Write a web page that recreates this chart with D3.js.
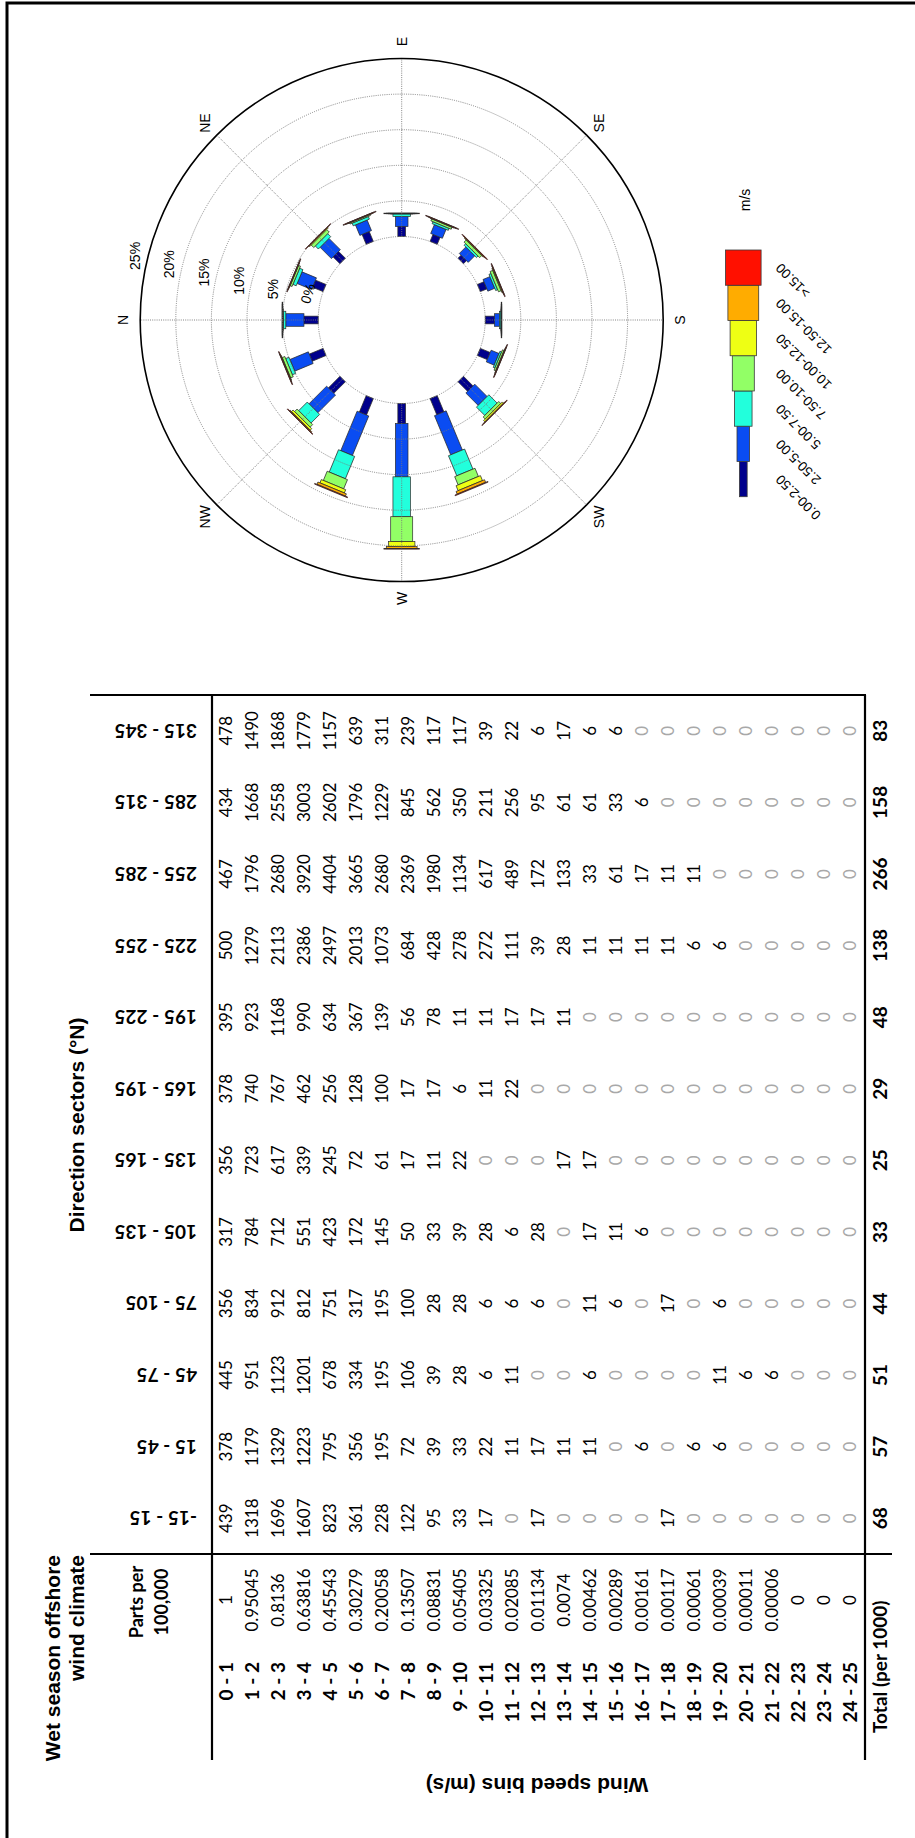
<!DOCTYPE html>
<html>
<head>
<meta charset="utf-8">
<script src="https://cdn.jsdelivr.net/npm/d3@7"></script>
<style>
  body { margin: 0; background: #fff; }
  svg { display: block; }
</style>
</head>
<body>
<svg id="fig" width="915" height="1838"></svg>
<script>
// ---------------- Table: parts per 100,000 by wind speed bin and direction sector
const speedBins = ["0 - 1","1 - 2","2 - 3","3 - 4","4 - 5","5 - 6","6 - 7","7 - 8","8 - 9","9 - 10",
  "10 - 11","11 - 12","12 - 13","13 - 14","14 - 15","15 - 16","16 - 17","17 - 18","18 - 19","19 - 20",
  "20 - 21","21 - 22","22 - 23","23 - 24","24 - 25"];
const partsPer100000 = ["1","0.95045","0.8136","0.63816","0.45543","0.30279","0.20058","0.13507","0.08831",
  "0.05405","0.03325","0.02085","0.01134","0.0074","0.00462","0.00289","0.00161","0.00117","0.00061",
  "0.00039","0.00011","0.00006","0","0","0"];
const sectors = ["-15 - 15","15 - 45","45 - 75","75 - 105","105 - 135","135 - 165",
  "165 - 195","195 - 225","225 - 255","255 - 285","285 - 315","315 - 345"];

const sec345_15  = [439,1318,1696,1607,823,361,228,122,95,33,17,0,17,0,0,0,0,17,0,0,0,0,0,0,0];
const sec15_45   = [378,1179,1329,1223,795,356,195,72,39,33,22,11,17,11,11,0,6,0,6,6,0,0,0,0,0];
const sec45_75   = [445,951,1123,1201,678,334,195,106,39,28,6,11,0,0,6,0,0,0,0,11,6,6,0,0,0];
const sec75_105  = [356,834,912,812,751,317,195,100,28,28,6,6,6,0,11,6,0,17,0,6,0,0,0,0,0];
const sec105_135 = [317,784,712,551,423,172,145,50,33,39,28,6,28,0,17,11,6,0,0,0,0,0,0,0,0];
const sec135_165 = [356,723,617,339,245,72,61,17,11,22,0,0,0,17,17,0,0,0,0,0,0,0,0,0,0];
const sec165_195 = [378,740,767,462,256,128,100,17,17,6,11,22,0,0,0,0,0,0,0,0,0,0,0,0,0];
const sec195_225 = [395,923,1168,990,634,367,139,56,78,11,11,17,17,11,0,0,0,0,0,0,0,0,0,0,0];
const sec225_255 = [500,1279,2113,2386,2497,2013,1073,684,428,278,272,111,39,28,11,11,11,11,6,6,0,0,0,0,0];
const sec255_285 = [467,1796,2680,3920,4404,3665,2680,2369,1980,1134,617,489,172,133,33,61,17,11,11,0,0,0,0,0,0];
const sec285_315 = [434,1668,2558,3003,2602,1796,1229,845,562,350,211,256,95,61,61,33,6,0,0,0,0,0,0,0,0];
const sec315_345 = [478,1490,1868,1779,1157,639,311,239,117,117,39,22,6,17,6,6,0,0,0,0,0,0,0,0,0];
const sectorColumns = [sec345_15,sec15_45,sec45_75,sec75_105,sec105_135,sec135_165,
  sec165_195,sec195_225,sec225_255,sec255_285,sec285_315,sec315_345];
const totalsPer1000 = [68,57,51,44,33,25,29,48,138,266,158,83];

// ---------------- Wind rose: percent of time, 16 directions x 7 speed classes
const roseDirections = ["N","NNE","NE","ENE","E","ESE","SE","SSE","S","SSW","SW","WSW","W","WNW","NW","NNW"];
const speedClasses = ["0.00-2.50","2.50-5.00","5.00-7.50","7.50-10.00","10.00-12.50","12.50-15.00",">15.00"];
const rose0_25   = [2.0,1.6,1.35,1.5,1.4,1.06,0.6,1.0,1.3,1.5,1.9,2.45,2.8,2.5,2.3,2.1];
const rose25_5   = [2.55,2.2,2.25,1.6,1.4,1.35,1.3,1.05,0.7,1.2,2.45,5.95,7.5,6.0,3.5,2.8];
const rose5_75   = [0.35,0.5,0.6,0.4,0.4,0.3,0.3,0.3,0.25,0.25,1.65,3.05,5.6,3.4,1.7,0.5];
const rose75_10  = [0.1,0.3,0.5,0.2,0.05,0.3,0.4,0.4,0.05,0.25,0.4,1.25,3.5,1.4,0.5,0.4];
const rose10_125 = [0.04,0.08,0.15,0.05,0.02,0.1,0.15,0.15,0.02,0.1,0.25,0.75,0.7,0.5,0.3,0.1];
const rose125_15 = [0.02,0.03,0.05,0.02,0.01,0.04,0.05,0.05,0.01,0.03,0.08,0.4,0.3,0.35,0.15,0.05];
const rose15up   = [0.01,0.01,0.02,0.01,0,0.01,0.02,0.02,0,0.01,0.02,0.1,0.05,0.1,0.05,0.02];
const roseClasses = [rose0_25,rose25_5,rose5_75,rose75_10,rose10_125,rose125_15,rose15up];
const ringTicks = [0,5,10,15,20,25];
const compassLabels = ["N","NE","E","SE","S","SW","W","NW"];

// ---------------- Styling
const classColors = ["#00008c","#0a4cf2","#22ffdc","#92ff66","#eeff14","#ffac00","#ff1000"];
const classWidths = [7.7,12.6,17.5,22,26.4,30.8,35.6];
const headFont = "'Liberation Sans', Arial, sans-serif";
const cellFont = "Lato, 'Liberation Sans', sans-serif";

const svg = d3.select("#fig");
svg.append("rect").attr("width",915).attr("height",1838).attr("fill","#fff");

// Landscape sheet (1838 x 915) turned a quarter to the left on the portrait page
const sheet = svg.append("g").attr("transform","translate(0,1838) rotate(-90)");

sheet.append("path").attr("d","M0,7 H1835 V915")
  .attr("fill","none").attr("stroke","#000").attr("stroke-width",3);

// ================= TABLE =================
const x = d3.scaleBand().domain(sectors).range([284,1143]);
const y = d3.scaleBand().domain(speedBins).range([213,863]);
const colC = s => x(s) + x.bandwidth()/2;
const rowC = b => y(b) + y.bandwidth()/2;

const tbl = sheet.append("g");
const rule = (x1,y1,x2,y2) => tbl.append("line").attr("x1",x1).attr("y1",y1).attr("x2",x2).attr("y2",y2)
  .attr("stroke","#000").attr("stroke-width",2.2);
rule(x.range()[1],90,x.range()[1],866);
rule(x.range()[0],90,x.range()[0],892);
rule(78,y.range()[0]-1,x.range()[1],y.range()[0]-1);
rule(78,y.range()[1]+2,x.range()[1],y.range()[1]+2);

tbl.append("text").attr("font-family",headFont).attr("font-weight","bold").attr("font-size",21)
  .attr("text-anchor","end").selectAll("tspan").data(["Wet season offshore","wind climate"]).join("tspan")
  .attr("x",283).attr("y",(d,i)=>60+i*24).text(d=>d);

tbl.append("text").attr("font-family",cellFont).attr("font-weight","bold").attr("font-size",18)
  .attr("text-anchor","middle").selectAll("tspan").data(["Parts per","100,000"]).join("tspan")
  .attr("x",236).attr("y",(d,i)=>143+i*25).text(d=>d);

tbl.append("text").attr("x",713).attr("y",84).attr("text-anchor","middle")
  .attr("font-family",headFont).attr("font-weight","bold").attr("font-size",21)
  .text("Direction sectors (°N)");

tbl.append("text").attr("transform","translate(60,537) rotate(-90)").attr("text-anchor","middle")
  .attr("font-family",headFont).attr("font-weight","bold").attr("font-size",21)
  .text("Wind speed bins (m/s)");

// column headers, reading upward
tbl.selectAll("text.hdr").data(sectors).join("text").attr("class","hdr")
  .attr("transform",d=>`translate(${colC(d)+7},197) rotate(-90)`)
  .attr("font-family",cellFont).attr("font-weight","bold").attr("font-size",19)
  .text(d=>d);

// row labels and parts-per values
tbl.selectAll("text.bin").data(speedBins).join("text").attr("class","bin")
  .attr("x",176).attr("y",d=>rowC(d)+6.5).attr("text-anchor","end")
  .attr("font-family",cellFont).attr("font-weight","bold").attr("font-size",19).text(d=>d);
tbl.selectAll("text.ppm").data(partsPer100000).join("text").attr("class","ppm")
  .attr("x",238).attr("y",(d,i)=>rowC(speedBins[i])+6).attr("text-anchor","middle")
  .attr("font-family",cellFont).attr("font-size",17).text(d=>d);

// data cells
const cells = [];
sectorColumns.forEach((col,ci) => col.forEach((v,ri) => cells.push({s:sectors[ci], b:speedBins[ri], v})));
tbl.selectAll("text.cell").data(cells).join("text").attr("class","cell")
  .attr("x",d=>colC(d.s)).attr("y",d=>rowC(d.b)+6).attr("text-anchor","middle")
  .attr("font-family",cellFont).attr("font-size",17)
  .attr("fill",d=>d.v===0?"#a8a8a8":"#000").text(d=>d.v);

// totals row
tbl.append("text").attr("x",105).attr("y",886.5).attr("font-family",cellFont)
  .attr("font-weight","bold").attr("font-size",19).text("Total (per 1000)");
tbl.selectAll("text.tot").data(totalsPer1000).join("text").attr("class","tot")
  .attr("x",(d,i)=>colC(sectors[i])).attr("y",886.5).attr("text-anchor","middle")
  .attr("font-family",cellFont).attr("font-weight","bold").attr("font-size",19).text(d=>d);

// ================= WIND ROSE =================
const cx = 1518, cy = 401.7;
const r = d3.scaleLinear().domain([0,25]).range([83.5,261.5]);
const rose = sheet.append("g").attr("transform",`translate(${cx},${cy})`);
const angle = d3.scalePoint().domain(roseDirections).range([0,337.5]);

// stacked speed-class bars for each direction
const stacked = d3.stack().keys(d3.range(speedClasses.length))
  .value((d,k)=>roseClasses[k][d])(d3.range(roseDirections.length));
stacked.forEach((layer,k) => {
  rose.append("g").selectAll("rect").data(layer).join("rect")
    .attr("transform",(d,i)=>`rotate(${angle(roseDirections[i])})`)
    .attr("x",-classWidths[k]/2).attr("width",classWidths[k])
    .attr("y",d=>-r(d[1])).attr("height",d=>Math.max(0.6,r(d[1])-r(d[0])))
    .attr("fill",classColors[k]).attr("stroke","#2b2b2b").attr("stroke-width",0.7);
});

// grid over the bars
const grid = rose.append("g").attr("fill","none");
grid.selectAll("circle").data(ringTicks.slice(0,-1)).join("circle")
  .attr("r",d=>r(d)).attr("stroke","#777").attr("stroke-width",0.9).attr("stroke-dasharray","1,1.2");
grid.append("circle").attr("r",r(25)).attr("stroke","#000").attr("stroke-width",1.6);
grid.selectAll("line").data(compassLabels).join("line")
  .attr("transform",(d,i)=>`rotate(${i*45})`)
  .attr("y1",-r(0)).attr("y2",-r(25)).attr("stroke","#777").attr("stroke-width",0.9).attr("stroke-dasharray","1,1.2");

const rad = a => a*Math.PI/180;
rose.selectAll("text.cmp").data(compassLabels).join("text").attr("class","cmp")
  .attr("x",(d,i)=>(r(25)+17)*Math.sin(rad(i*45)))
  .attr("y",(d,i)=>-(r(25)+17)*Math.cos(rad(i*45)))
  .attr("text-anchor","middle").attr("dominant-baseline","central")
  .attr("font-family",headFont).attr("font-size",14).text(d=>d);

rose.selectAll("text.pct").data(ringTicks).join("text").attr("class","pct")
  .attr("transform",d=>{
    const R = r(d)+13, a = rad(13.5);
    return `translate(${R*Math.sin(a)+(d===0?4:0)},${-R*Math.cos(a)}) rotate(${d===0?18:0})`;
  })
  .attr("text-anchor","middle").attr("dominant-baseline","central")
  .attr("font-family",headFont).attr("font-size",14).text(d=>d+"%");

// ================= LEGEND =================
const lx = d3.scaleBand().domain(speedClasses).range([1341.3,1588]);
const ly = 743.3;
const leg = sheet.append("g");
leg.selectAll("rect").data(speedClasses).join("rect")
  .attr("x",d=>lx(d)).attr("width",lx.bandwidth())
  .attr("y",(d,i)=>ly-classWidths[i]/2).attr("height",(d,i)=>classWidths[i])
  .attr("fill",(d,i)=>classColors[i]).attr("stroke","#3a3a3a").attr("stroke-width",0.8);
leg.selectAll("text").data(speedClasses).join("text")
  .attr("transform",d=>`translate(${lx(d)+lx.bandwidth()/2+2},${ly+35}) rotate(-45)`)
  .attr("text-anchor","end").attr("dominant-baseline","central")
  .attr("font-family",headFont).attr("font-size",13.5).text(d=>d);
leg.append("text").attr("x",1638).attr("y",745).attr("text-anchor","middle")
  .attr("dominant-baseline","central").attr("font-family",headFont).attr("font-size",14).text("m/s");
</script>
</body>
</html>
